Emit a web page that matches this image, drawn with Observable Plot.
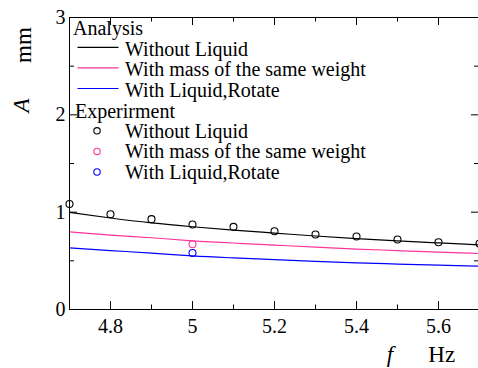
<!DOCTYPE html>
<html><head><meta charset="utf-8">
<script src="https://cdn.jsdelivr.net/npm/d3@7"></script>
<script src="https://cdn.jsdelivr.net/npm/@observablehq/plot@0.6"></script>
<style>
body{margin:0;background:#fff;overflow:hidden}
#chart svg, #chart svg text{font-family:"Liberation Serif","Times New Roman",serif !important}
#chart g[aria-label$="tick label"]{font-size:20px !important;font-variant:normal !important}
</style>
</head><body><div id="chart"></div>
<script>
// ---- data ----
const freqAnalysis = [4.7, 4.8, 4.9, 5.0, 5.1, 5.2, 5.3, 5.4, 5.5, 5.6, 5.7];
const anaWithoutLiquid = [0.997, 0.94, 0.89, 0.85, 0.815, 0.785, 0.755, 0.728, 0.705, 0.684, 0.664];
const anaWithMass = [0.797, 0.765, 0.737, 0.706, 0.683, 0.662, 0.640, 0.621, 0.605, 0.589, 0.575];
const anaWithLiquidRotate = [0.633, 0.605, 0.58, 0.550, 0.530, 0.512, 0.495, 0.480, 0.467, 0.455, 0.445];

const freqExp = [4.7, 4.8, 4.9, 5.0, 5.1, 5.2, 5.3, 5.4, 5.5, 5.6, 5.7];
const expWithoutLiquid = [1.084, 0.979, 0.928, 0.873, 0.849, 0.804, 0.770, 0.750, 0.719, 0.691, 0.678];
const freqExpOther = [5.0];
const expWithMass = [0.671];
const expWithLiquidRotate = [0.581];

const xMajorTicks = [4.8, 5, 5.2, 5.4, 5.6];
const xMinorTicks = [4.9, 5.1, 5.3, 5.5];
const yMajorTicks = [0, 1, 2, 3];
const yMinorTicks = [0.5, 1.5, 2.5];

const seriesNames = ["Without Liquid", "With mass of the same weight", "With Liquid,Rotate"];
const groupNames = ["Analysis", "Experirment"];
const seriesColors = ["#000000", "#ff3399", "#0000ff"];

// ---- tables ----
const anaSeries = [anaWithoutLiquid, anaWithMass, anaWithLiquidRotate];
const anaTable = anaSeries.flatMap((vals, i) => vals.map((v, j) => ({f: freqAnalysis[j], a: v, s: i})));
const expTable = [
  ...expWithoutLiquid.map((v, j) => ({f: freqExp[j], a: v, s: 0})),
  ...expWithMass.map((v, j) => ({f: freqExpOther[j], a: v, s: 1})),
  ...expWithLiquidRotate.map((v, j) => ({f: freqExpOther[j], a: v, s: 2}))
];

const W = 478, H = 368;
const mL = 69, mR = -1, mT = 17, mB = 59;
const plotH = H - mT - mB, plotW = W - mL - mR;

const plot = Plot.plot({
  width: W, height: H,
  marginLeft: mL, marginRight: mR, marginTop: mT, marginBottom: mB,
  style: {fontFamily: "Liberation Serif", fontSize: "20px", background: "white", color: "black"},
  x: {domain: [4.7, 5.7]},
  y: {domain: [0, 3]},
  marks: [
    Plot.axisX(xMajorTicks, {tickSize: 0, tickPadding: 9, tickFormat: d => String(d), label: null, fontSize: 20}),
    Plot.axisY(yMajorTicks, {tickSize: 0, tickPadding: 4, tickFormat: d => String(d), label: null, fontSize: 20}),
    // inward ticks
    Plot.tickX(xMajorTicks, {x: d => d, insetTop: plotH - 8, stroke: "black"}),
    Plot.tickX(xMajorTicks, {x: d => d, insetBottom: plotH - 8, stroke: "black"}),
    Plot.tickX(xMinorTicks, {x: d => d, insetTop: plotH - 4.5, stroke: "black"}),
    Plot.tickX(xMinorTicks, {x: d => d, insetBottom: plotH - 4.5, stroke: "black"}),
    Plot.tickY(yMajorTicks, {y: d => d, insetRight: plotW - 8, stroke: "black"}),
    Plot.tickY(yMajorTicks, {y: d => d, insetLeft: plotW - 8, stroke: "black"}),
    Plot.tickY(yMinorTicks, {y: d => d, insetRight: plotW - 5, stroke: "black"}),
    Plot.tickY(yMinorTicks, {y: d => d, insetLeft: plotW - 5, stroke: "black"}),
    Plot.lineY(anaTable, {x: "f", y: "a", z: "s", stroke: d => seriesColors[d.s], strokeWidth: 1.2, curve: "natural"}),
    Plot.dot(expTable, {x: "f", y: "a", r: 3.5, stroke: d => seriesColors[d.s], strokeWidth: 1.1, fill: "none"}),
    Plot.frame({stroke: "black", strokeWidth: 1})
  ]
});
document.getElementById("chart").appendChild(plot);

// ---- legend and axis titles ----
const svg = d3.select(plot);
const g = svg.append("g").attr("font-size", 20).attr("fill", "black").attr("text-anchor", "start");
const step = 20.6;
g.append("text").attr("x", 73).attr("y", 34.7).text(groupNames[0]);
seriesNames.forEach((name, i) => {
  const base = 55.7 + i * step;
  g.append("line").attr("x1", 77.5).attr("x2", 118.5).attr("y1", base - 8.4).attr("y2", base - 8.4)
    .attr("stroke", seriesColors[i]).attr("stroke-width", 1.2);
  g.append("text").attr("x", 125).attr("y", base).text(name);
});
g.append("text").attr("x", 75).attr("y", 117.5).text(groupNames[1]);
seriesNames.forEach((name, i) => {
  const base = 137.8 + i * step;
  g.append("circle").attr("cx", 97).attr("cy", base - 7).attr("r", 3.2)
    .attr("fill", "none").attr("stroke", seriesColors[i]).attr("stroke-width", 1.1);
  g.append("text").attr("x", 125).attr("y", base).text(name);
});

const t = svg.append("g").attr("font-size", 23).attr("fill", "black");
t.append("text").attr("transform", "translate(29,105.5) rotate(-90)").attr("text-anchor", "middle")
  .attr("font-style", "italic").text("A");
t.append("text").attr("transform", "translate(31,45) rotate(-90)").attr("text-anchor", "middle").text("mm");
t.append("text").attr("x", 390).attr("y", 361.5).attr("text-anchor", "middle").attr("font-style", "italic").text("f");
t.append("text").attr("x", 428.3).attr("y", 361.5).attr("text-anchor", "start").text("Hz");
</script>
</body></html>
